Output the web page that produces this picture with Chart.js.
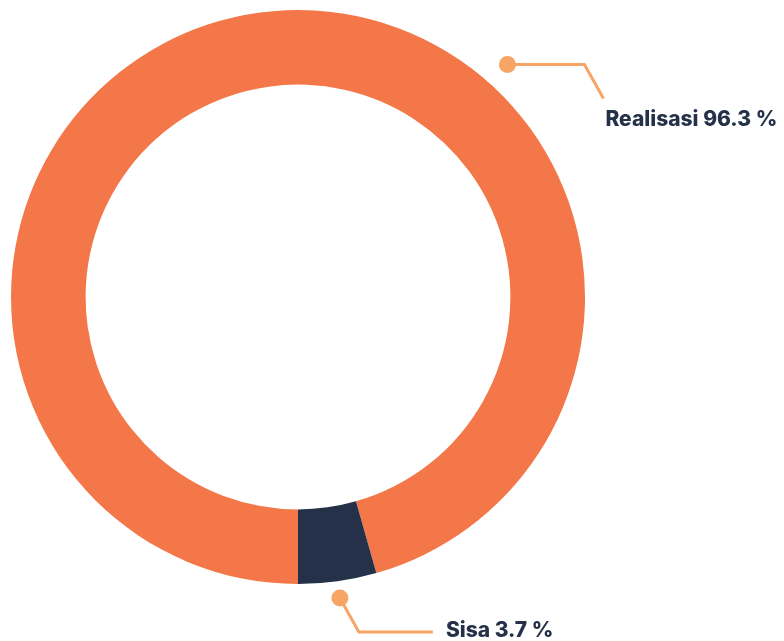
<!DOCTYPE html>
<html>
<head>
<meta charset="utf-8">
<script src="https://cdn.jsdelivr.net/npm/chart.js@4/dist/chart.umd.min.js"></script>
<style>
  html, body { margin: 0; padding: 0; background: #fff; }
  #wrap { width: 784px; height: 641px; }
</style>
</head>
<body>
<div id="wrap"><canvas id="donutChart" width="784" height="641"></canvas></div>
<script>
// slice values as drawn (angle), label text as printed
const categories = ["Realisasi", "Sisa"];
const sliceValues = [95.6, 4.4];
const percentLabels = ["96.3 %", "3.7 %"];
const sliceColors = ["#f37748", "#253148"];

const leaderColor = "#f8a465";
const textColor = "#253148";
const labelFont = "800 21px Inter, 'Open Sans', sans-serif";

// draws the two call-outs (dot, leader line, text) from the arc geometry
const calloutPlugin = {
  id: "callouts",
  afterDatasetsDraw(chart) {
    const { ctx } = chart;
    const arcs = chart.getDatasetMeta(0).data;
    if (!arcs.length) return;
    const { x: cx, y: cy, outerRadius } = arcs[0].getProps(["x", "y", "outerRadius"], true);

    const drawDot = (x, y) => {
      ctx.beginPath();
      ctx.arc(x, y, 8.5, 0, Math.PI * 2);
      ctx.fillStyle = leaderColor;
      ctx.fill();
    };

    ctx.save();
    ctx.strokeStyle = leaderColor;
    ctx.lineWidth = 3;
    ctx.lineJoin = "round";
    ctx.font = labelFont;
    ctx.fillStyle = textColor;
    ctx.textBaseline = "middle";

    // Realisasi: up-right of the ring
    const a1 = (42 - 90) * Math.PI / 180;
    const r1 = outerRadius + 26;
    const p1 = { x: cx + r1 * Math.cos(a1), y: cy + r1 * Math.sin(a1) };
    ctx.beginPath();
    ctx.moveTo(p1.x, p1.y);
    ctx.lineTo(p1.x + 77, p1.y);
    ctx.lineTo(p1.x + 96, p1.y + 34);
    ctx.stroke();
    drawDot(p1.x, p1.y);
    ctx.fillStyle = textColor;
    ctx.textAlign = "left";
    ctx.fillText(categories[0] + " " + percentLabels[0], p1.x + 98, p1.y + 55);

    // Sisa: below the middle of its slice
    const sisa = arcs[1].getProps(["startAngle", "endAngle"], true);
    const a2 = (sisa.startAngle + sisa.endAngle) / 2;
    const r2 = outerRadius + 17;
    const p2 = { x: cx + r2 * Math.cos(a2), y: cy + r2 * Math.sin(a2) };
    ctx.beginPath();
    ctx.moveTo(p2.x, p2.y);
    ctx.lineTo(p2.x + 19, p2.y + 34);
    ctx.lineTo(p2.x + 93, p2.y + 34);
    ctx.stroke();
    drawDot(p2.x, p2.y);
    ctx.fillStyle = textColor;
    ctx.fillText(categories[1] + " " + percentLabels[1], p2.x + 106, p2.y + 33);

    ctx.restore();
  }
};

const ctx = document.getElementById("donutChart").getContext("2d");
new Chart(ctx, {
  type: "doughnut",
  data: {
    labels: categories,
    datasets: [{
      data: sliceValues,
      backgroundColor: sliceColors,
      borderWidth: 0,
      hoverOffset: 0
    }]
  },
  options: {
    responsive: false,
    animation: false,
    rotation: 180,
    cutout: "74%",
    layout: { padding: { left: 11, top: 10, right: 199, bottom: 57 } },
    plugins: {
      legend: { display: false },
      tooltip: { enabled: false }
    },
    events: []
  },
  plugins: [calloutPlugin]
});
</script>
</body>
</html>
